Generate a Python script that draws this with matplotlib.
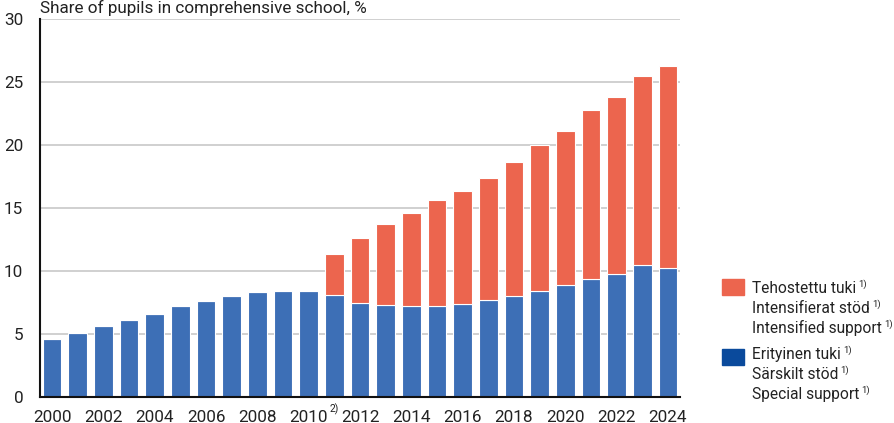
import matplotlib
matplotlib.use("Agg")
import matplotlib.pyplot as plt
from matplotlib import font_manager
from matplotlib.patches import Rectangle
import numpy as np

years = list(range(2000, 2025))
special = [4.6, 5.1, 5.6, 6.1, 6.6, 7.2, 7.6, 8.0, 8.3, 8.4, 8.4,
           8.07, 7.5, 7.3, 7.2, 7.25, 7.4, 7.7, 8.0, 8.45, 8.9, 9.35, 9.8, 10.45, 10.2]
total = [None] * 11 + [11.35, 12.6, 13.7, 14.6, 15.6, 16.35, 17.4, 18.65, 20.0,
                       21.15, 22.8, 23.8, 25.45, 26.25]
intensified = [0 if t is None else round(t - s, 2) for t, s in zip(total, special)]
tick_years = list(range(2000, 2025, 2))
title = "Share of pupils in comprehensive school, %"
legend_red = ["Tehostettu tuki", "Intensifierat stöd", "Intensified support"]
legend_blue = ["Erityinen tuki", "Särskilt stöd", "Special support"]

names = {f.name for f in font_manager.fontManager.ttflist}
font = "Liberation Sans Narrow" if "Liberation Sans Narrow" in names else "Roboto"
plt.rcParams['font.family'] = [font, 'DejaVu Sans']

blue = "#3d6fb6"
red = "#ec654e"
blue_leg = "#0a4a9c"
txtc = "#222222"

fig = plt.figure(figsize=(8.94, 4.23), dpi=100)
W, H = 894, 423
ax = fig.add_axes([40 / W, 1 - 397 / H, 640 / W, 378 / H])

x = np.arange(len(years))
ax.bar(x, special, width=0.72, color=blue, edgecolor="white", linewidth=0.8, zorder=3)
ax.bar(x, intensified, width=0.72, bottom=special, color=red, edgecolor="white",
       linewidth=0.8, zorder=3)

ax.set_xlim(-0.47, len(years) - 0.53)
ax.set_ylim(0, 30)
ax.set_yticks(range(0, 31, 5))
ax.yaxis.grid(True, color="#c8c8c8", linewidth=1.2, zorder=0)
ax.set_axisbelow(True)
ax.set_xticks([years.index(y) for y in tick_years])
ax.set_xticklabels([str(y) for y in tick_years])
ax.tick_params(axis="both", length=0, labelsize=12.3, colors=txtc)
ax.tick_params(axis="y", pad=12)
ax.tick_params(axis="x", pad=9)
for s in ["top", "right"]:
    ax.spines[s].set_visible(False)
for s in ["left", "bottom"]:
    ax.spines[s].set_color("#111111")
    ax.spines[s].set_linewidth(1.5)
    ax.spines[s].set_zorder(4)

ax.text(years.index(2011), -0.55, "2)", fontsize=7.5, ha="center", va="top",
        transform=ax.transData, color=txtc)

fig.text(40 / W, 1 - 13 / H, title, fontsize=12.3, ha="left", va="baseline", color=txtc)

# legend
fig.canvas.draw()
renderer = fig.canvas.get_renderer()

def legend_block(color, lines, swatch_top, line_ys):
    fig.patches.append(Rectangle((722 / W, 1 - (swatch_top + 16) / H), 22 / W, 16 / H,
                                 transform=fig.transFigure, color=color, figure=fig))
    for txt, yb in zip(lines, line_ys):
        t = fig.text(752 / W, 1 - yb / H, txt, fontsize=11.2, ha="left", va="baseline",
                     color=txtc)
        bb = t.get_window_extent(renderer)
        fig.text(bb.x1 / W + 2 / W, 1 - (yb - 6) / H, "1)", fontsize=6.8, ha="left",
                 va="baseline", color=txtc)

legend_block(red, legend_red, 279, [293, 313, 333])
legend_block(blue_leg, legend_blue, 349, [359, 379, 399])

fig.savefig("out.png", dpi=100)
